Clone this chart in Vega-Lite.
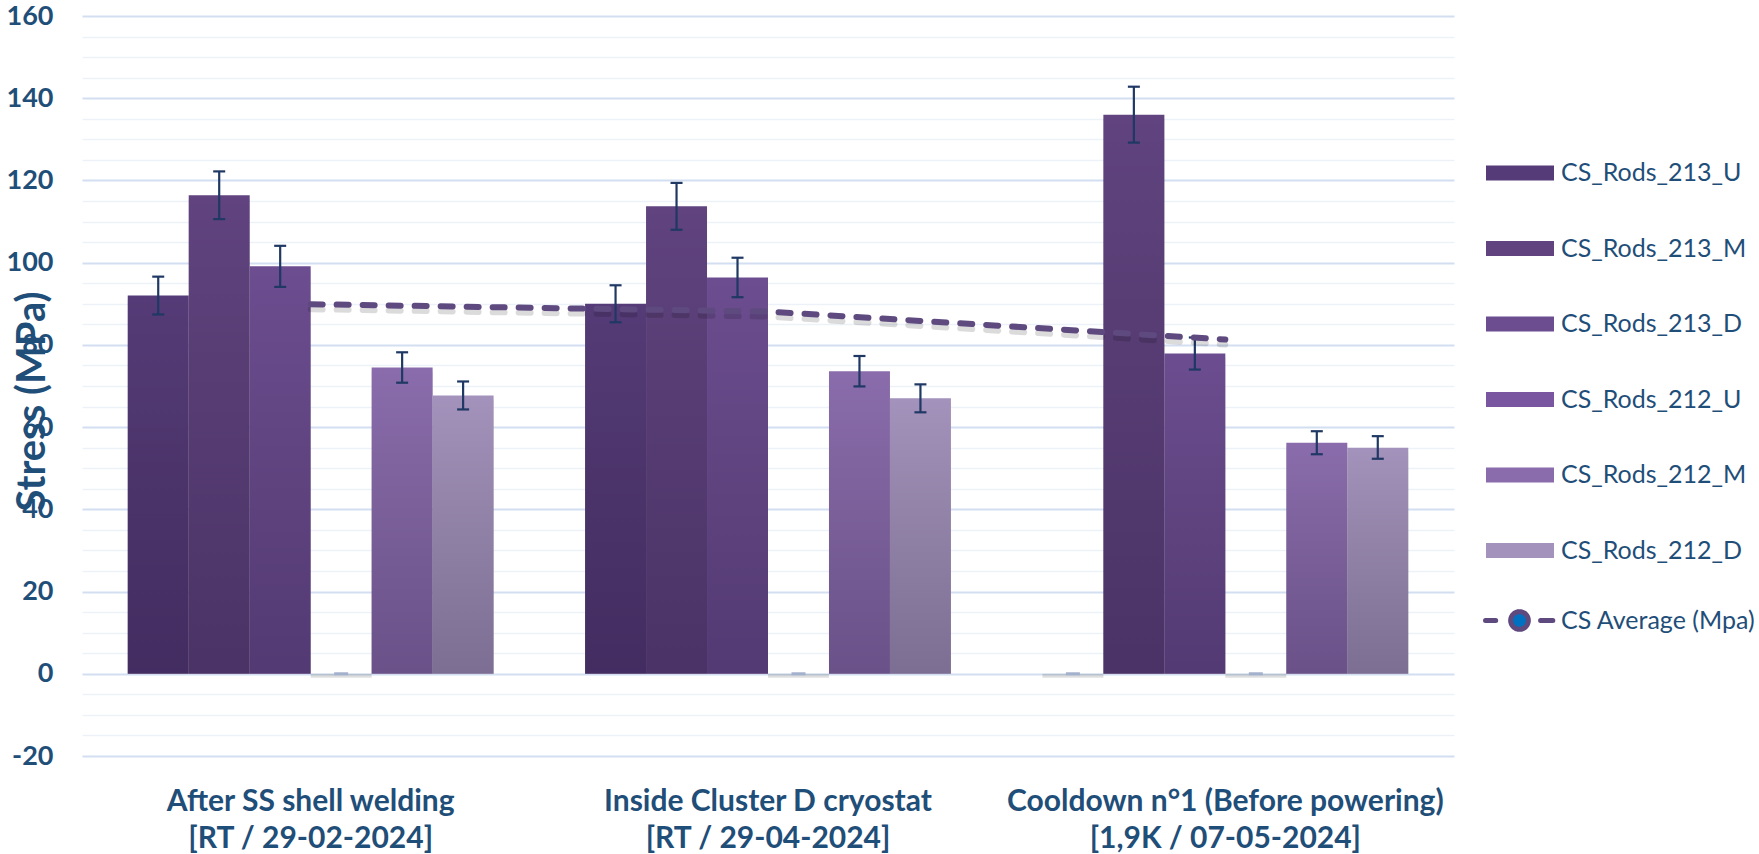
{
  "$schema": "https://vega.github.io/schema/vega-lite/v6.json",
  "width": 1372,
  "height": 740,
  "autosize": {"type": "none"},
  "padding": {"left": 82, "top": 16, "right": 305, "bottom": 98},
  "background": "white",
  "config": {"view": {"stroke": null}, "font": "Lato"},
  "datasets": {
    "bars": [
      {"cat": "After SS shell welding|[RT / 29-02-2024]", "series": "CS_Rods_213_U", "value": 92.0, "lo": 87.4, "hi": 96.6},
      {"cat": "After SS shell welding|[RT / 29-02-2024]", "series": "CS_Rods_213_M", "value": 116.4, "lo": 110.6, "hi": 122.2},
      {"cat": "After SS shell welding|[RT / 29-02-2024]", "series": "CS_Rods_213_D", "value": 99.1, "lo": 94.1, "hi": 104.1},
      {"cat": "After SS shell welding|[RT / 29-02-2024]", "series": "CS_Rods_212_U", "value": 0, "lo": null, "hi": null},
      {"cat": "After SS shell welding|[RT / 29-02-2024]", "series": "CS_Rods_212_M", "value": 74.5, "lo": 70.8, "hi": 78.2},
      {"cat": "After SS shell welding|[RT / 29-02-2024]", "series": "CS_Rods_212_D", "value": 67.7, "lo": 64.3, "hi": 71.1},
      {"cat": "Inside Cluster D cryostat|[RT / 29-04-2024]", "series": "CS_Rods_213_U", "value": 90.0, "lo": 85.5, "hi": 94.5},
      {"cat": "Inside Cluster D cryostat|[RT / 29-04-2024]", "series": "CS_Rods_213_M", "value": 113.7, "lo": 108.0, "hi": 119.4},
      {"cat": "Inside Cluster D cryostat|[RT / 29-04-2024]", "series": "CS_Rods_213_D", "value": 96.4, "lo": 91.6, "hi": 101.2},
      {"cat": "Inside Cluster D cryostat|[RT / 29-04-2024]", "series": "CS_Rods_212_U", "value": 0, "lo": null, "hi": null},
      {"cat": "Inside Cluster D cryostat|[RT / 29-04-2024]", "series": "CS_Rods_212_M", "value": 73.6, "lo": 69.9, "hi": 77.3},
      {"cat": "Inside Cluster D cryostat|[RT / 29-04-2024]", "series": "CS_Rods_212_D", "value": 67.0, "lo": 63.6, "hi": 70.4},
      {"cat": "Cooldown n°1 (Before powering)|[1,9K / 07-05-2024]", "series": "CS_Rods_213_U", "value": 0, "lo": null, "hi": null},
      {"cat": "Cooldown n°1 (Before powering)|[1,9K / 07-05-2024]", "series": "CS_Rods_213_M", "value": 136.0, "lo": 129.2, "hi": 142.8},
      {"cat": "Cooldown n°1 (Before powering)|[1,9K / 07-05-2024]", "series": "CS_Rods_213_D", "value": 77.9, "lo": 74.0, "hi": 81.8},
      {"cat": "Cooldown n°1 (Before powering)|[1,9K / 07-05-2024]", "series": "CS_Rods_212_U", "value": 0, "lo": null, "hi": null},
      {"cat": "Cooldown n°1 (Before powering)|[1,9K / 07-05-2024]", "series": "CS_Rods_212_M", "value": 56.2, "lo": 53.4, "hi": 59.0},
      {"cat": "Cooldown n°1 (Before powering)|[1,9K / 07-05-2024]", "series": "CS_Rods_212_D", "value": 55.0, "lo": 52.3, "hi": 57.8}
    ],
    "avg": [
      {"cat": "After SS shell welding|[RT / 29-02-2024]", "series": "CS Average (Mpa)", "avg": 89.9},
      {"cat": "Inside Cluster D cryostat|[RT / 29-04-2024]", "series": "CS Average (Mpa)", "avg": 88.1},
      {"cat": "Cooldown n°1 (Before powering)|[1,9K / 07-05-2024]", "series": "CS Average (Mpa)", "avg": 81.3}
    ]
  },
  "encoding": {
    "x": {
      "field": "cat", "type": "nominal", "sort": null,
      "scale": {"paddingInner": 0.2, "paddingOuter": 0.1},
      "axis": {
        "title": null, "labelAngle": 0, "ticks": false, "domain": false, "grid": false,
        "labelExpr": "split(datum.label, '|')",
        "labelFont": "Lato", "labelFontWeight": "bold", "labelFontSize": 30,
        "labelColor": "#1F4E79", "labelLineHeight": 37, "labelPadding": 30,
        "labelBaseline": "top", "labelLimit": 600
      }
    },
    "y": {
      "type": "quantitative",
      "scale": {"domain": [-20, 160], "nice": false, "zero": false},
      "axis": {
        "title": "Stress (MPa)",
        "values": [-20, -15, -10, -5, 0, 5, 10, 15, 20, 25, 30, 35, 40, 45, 50, 55, 60, 65, 70, 75, 80, 85, 90, 95, 100, 105, 110, 115, 120, 125, 130, 135, 140, 145, 150, 155, 160],
        "labelExpr": "datum.value % 20 === 0 ? '' + datum.value : ''",
        "ticks": false, "domain": false, "grid": true,
        "gridColor": {"condition": {"test": "datum.value % 20 === 0", "value": "#d3dff1"}, "value": "#edf2f9"},
        "gridWidth": {"condition": {"test": "datum.value % 20 === 0", "value": 2}, "value": 1.5},
        "labelFont": "Lato", "labelFontWeight": "bold", "labelFontSize": 27,
        "labelColor": "#1F4E79", "labelPadding": 29,
        "titleFont": "Lato", "titleFontWeight": "bold", "titleFontSize": 40,
        "titleColor": "#1F4E79", "titleAngle": 270, "titleX": -38, "titleY": 385,
        "titleAlign": "center", "titleBaseline": "alphabetic"
      }
    }
  },
  "layer": [
    {
      "data": {"name": "bars"},
      "mark": {"type": "bar", "fill": "#000000", "opacity": 0.13, "yOffset": 4},
      "encoding": {
        "xOffset": {"field": "series", "type": "nominal", "scale": {"domain": ["CS_Rods_213_U", "CS_Rods_213_M", "CS_Rods_213_D", "CS_Rods_212_U", "CS_Rods_212_M", "CS_Rods_212_D"], "paddingInner": 0, "paddingOuter": 0}},
        "y": {"field": "value", "type": "quantitative"},
        "y2": {"datum": 0}
      }
    },
    {
      "data": {"name": "bars"},
      "mark": {"type": "bar"},
      "encoding": {
        "xOffset": {"field": "series", "type": "nominal"},
        "y": {"field": "value", "type": "quantitative"},
        "y2": {"datum": 0},
        "fill": {
          "field": "series", "type": "nominal",
          "scale": {
            "domain": ["CS_Rods_213_U", "CS_Rods_213_M", "CS_Rods_213_D", "CS_Rods_212_U", "CS_Rods_212_M", "CS_Rods_212_D"],
            "range": ["#553b77", "#60437f", "#6c4d90", "#7a55a0", "#8a6cac", "#a392bb"]
          },
          "legend": {
            "title": null, "orient": "none", "legendX": 1404, "legendY": 123,
            "padding": 0, "rowPadding": 28.5, "labelOffset": 7,
            "labelFont": "Lato", "labelFontSize": 25, "labelColor": "#1F4E79",
            "symbolSize": 4624, "symbolType": "M-1,-0.22L1,-0.22L1,0.22L-1,0.22Z",
            "symbolStrokeWidth": 0, "symbolOpacity": 1,
            "labelLimit": 300
          }
        }
      }
    },
    {
      "data": {"name": "bars"},
      "mark": {"type": "bar", "fill": {"gradient": "linear", "x1": 0, "y1": 0, "x2": 0, "y2": 1, "stops": [{"offset": 0, "color": "rgba(0,0,0,0)"}, {"offset": 1, "color": "rgba(10,0,30,0.25)"}]}},
      "encoding": {
        "xOffset": {"field": "series", "type": "nominal"},
        "y": {"field": "value", "type": "quantitative"},
        "y2": {"datum": 0}
      }
    },
    {
      "data": {"name": "bars"},
      "transform": [{"filter": "datum.value === 0"}],
      "mark": {"type": "tick", "color": "#a3b1cc", "size": 14, "thickness": 3, "opacity": 1},
      "encoding": {
        "xOffset": {"field": "series", "type": "nominal"},
        "y": {"field": "value", "type": "quantitative"}
      }
    },
    {
      "data": {"name": "bars"},
      "transform": [{"filter": "datum.lo != null"}],
      "mark": {"type": "rule", "color": "#1f3864", "strokeWidth": 2.2},
      "encoding": {
        "xOffset": {"field": "series", "type": "nominal"},
        "y": {"field": "lo", "type": "quantitative"},
        "y2": {"field": "hi"}
      }
    },
    {
      "data": {"name": "bars"},
      "transform": [{"filter": "datum.lo != null"}],
      "mark": {"type": "tick", "color": "#1f3864", "size": 12, "thickness": 2.2, "opacity": 1},
      "encoding": {
        "xOffset": {"field": "series", "type": "nominal"},
        "y": {"field": "lo", "type": "quantitative"}
      }
    },
    {
      "data": {"name": "bars"},
      "transform": [{"filter": "datum.lo != null"}],
      "mark": {"type": "tick", "color": "#1f3864", "size": 12, "thickness": 2.2, "opacity": 1},
      "encoding": {
        "xOffset": {"field": "series", "type": "nominal"},
        "y": {"field": "hi", "type": "quantitative"}
      }
    },
    {
      "data": {"name": "avg"},
      "mark": {"type": "line", "color": "#000000", "opacity": 0.14, "strokeWidth": 6, "strokeDash": [12, 14], "strokeCap": "round", "yOffset": 5},
      "encoding": {
        "y": {"field": "avg", "type": "quantitative"}
      }
    },
    {
      "data": {"name": "avg"},
      "mark": {"type": "line", "strokeWidth": 6, "strokeDash": [12, 14], "strokeCap": "round"},
      "encoding": {
        "y": {"field": "avg", "type": "quantitative"},
        "stroke": {
          "field": "series", "type": "nominal",
          "scale": {"domain": ["CS Average (Mpa)"], "range": ["#5f4a80"]},
          "legend": {
            "title": null, "orient": "none", "legendX": 1401, "legendY": 568,
            "padding": 0, "labelOffset": 5,
            "labelFont": "Lato", "labelFontSize": 25, "labelColor": "#1F4E79",
            "symbolSize": 4624,
            "symbolType": "M-1,0L-0.7,0M-0.26,0A0.26,0.26,0,1,1,0.26,0A0.26,0.26,0,1,1,-0.26,0M0.62,0L0.98,0",
            "symbolStrokeWidth": 5, "symbolFillColor": "#0070C0", "symbolStrokeColor": "#5f4a80",
            "symbolDash": [1, 0], "symbolOpacity": 1,
            "labelLimit": 300,
            "encode": {
              "symbols": {
                "update": {
                  "fill": {"value": "#0070C0"},
                  "strokeCap": {"value": "round"},
                  "strokeDash": {"value": [1, 0]}
                }
              }
            }
          }
        }
      }
    }
  ]
}
